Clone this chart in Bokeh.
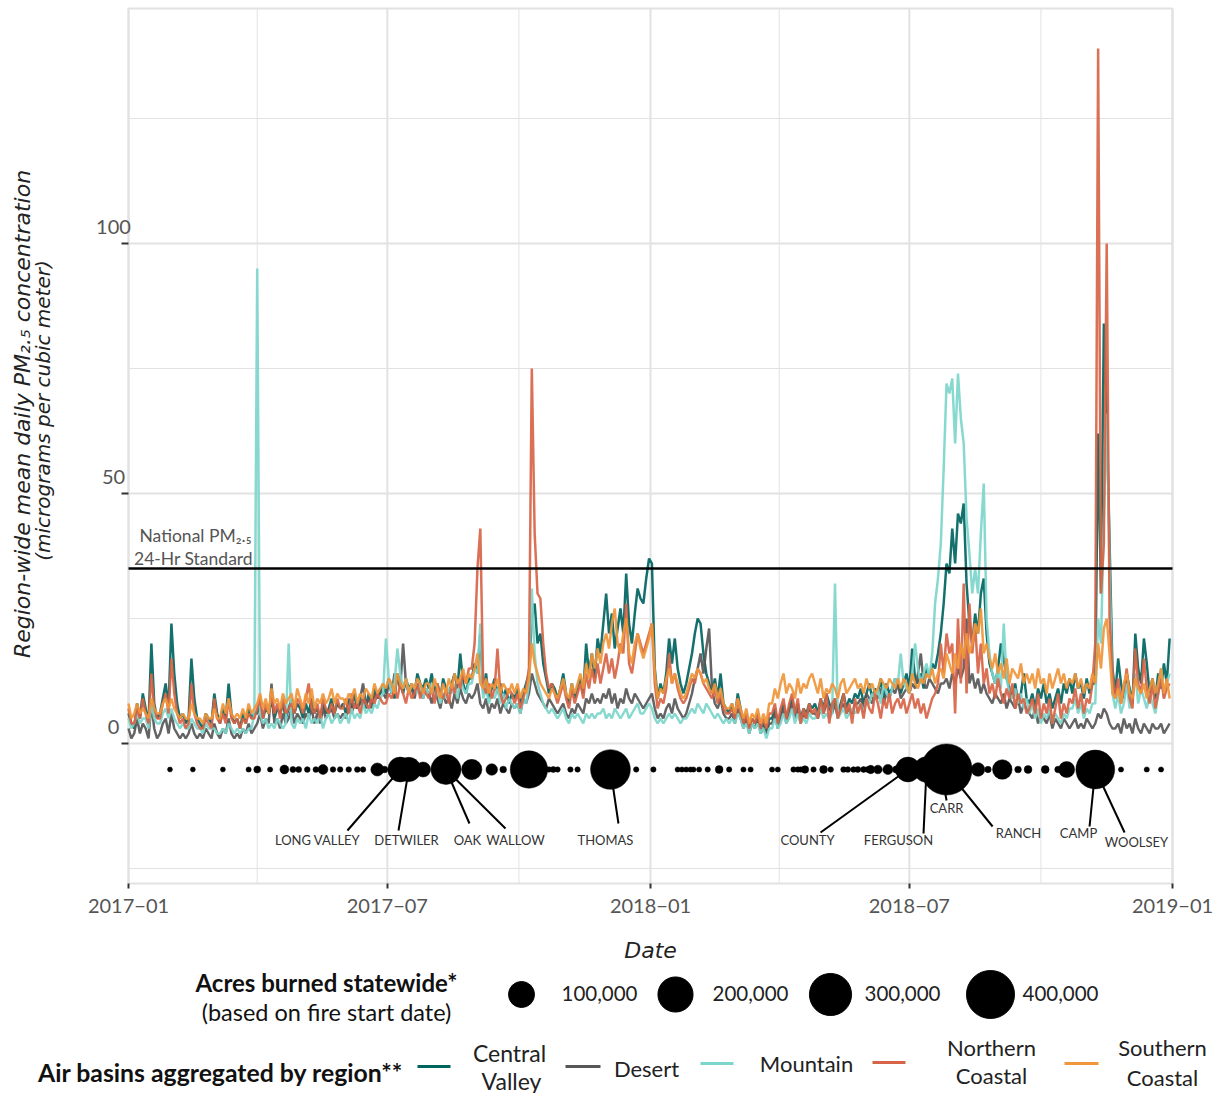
from math import pi
import numpy as np
import pandas as pd
from bokeh.plotting import figure
from bokeh.models import Range1d, FixedTicker, DatetimeTickFormatter, Label, ColumnDataSource
from bokeh.core.properties import value
from bokeh.embed import file_html
from bokeh.resources import INLINE

# ---------------- data ----------------
dates = pd.date_range("2017-01-01", "2018-12-30", freq="2D")

regions = ["Central Valley", "Desert", "Mountain", "Northern Coastal", "Southern Coastal"]
region_colors = ["#00645f", "#575757", "#7dd6cb", "#d76446", "#f0963c"]

central_valley = [
    6, 4, 3, 8, 5, 10, 7, 4, 20, 8, 5, 6, 9, 12, 7,
    24, 14, 8, 5, 6, 4, 5, 17, 9, 5, 4, 3, 6, 5, 4,
    10, 6, 4, 7, 5, 12, 6, 4, 5, 3, 6, 4, 7, 5, 6,
    6, 8, 5, 7, 6, 9, 5, 7, 6, 8, 5, 7, 9, 6, 8,
    7, 5, 8, 6, 9, 6, 7, 5, 8, 6, 7, 9, 6, 8, 7,
    8, 6, 9, 7, 10, 7, 8, 9, 7, 10, 8, 11, 9, 10, 12,
    10, 13, 11, 9, 14, 12, 10, 13, 11, 12, 10, 14, 12, 11, 13,
    11, 14, 10, 12, 9, 13, 11, 10, 12, 14, 11, 18, 12, 10, 13,
    13, 16, 14, 22, 10, 14, 9, 11, 13, 10, 12, 9, 11, 8, 10,
    9, 11, 8, 10, 12, 14, 25, 28, 20, 22, 16, 13, 10, 12, 11,
    9, 11, 14, 10, 8, 12, 9, 11, 13, 10, 20, 14, 18, 13, 21,
    18, 24, 30, 22, 26, 19, 23, 27, 22, 34, 24, 20, 26, 31, 29,
    28, 33, 37, 36, 15, 9, 12, 10, 14, 21, 16, 21, 15, 12, 10,
    12, 15, 18, 22, 25, 24, 18, 14, 12, 10, 13, 9, 14, 8, 7,
    6, 8, 5, 10, 7, 4, 6, 3, 5, 4, 6, 3, 4, 2, 5,
    5, 7, 4, 6, 8, 5, 7, 9, 6, 8, 5, 7, 6, 8, 7,
    8, 6, 9, 7, 10, 8, 7, 9, 6, 8, 10, 7, 9, 8, 10,
    9, 11, 8, 10, 12, 9, 11, 10, 13, 9, 12, 10, 11, 13, 12,
    10, 12, 14, 11, 19, 13, 12, 14, 11, 15, 13, 16, 15, 18, 22,
    28, 36, 34, 43, 36, 46, 44, 48, 32, 24, 20, 26, 22, 30, 33,
    22, 16, 14, 12, 15, 20, 17, 13, 11, 9, 12, 8, 10, 14, 9,
    8, 10, 7, 11, 9, 12, 8, 10, 7, 9, 11, 8, 12, 10, 13,
    10, 14, 11, 12, 9, 13, 10, 12, 12, 62, 30, 84, 66, 40, 15,
    10, 17, 12, 9, 14, 11, 8, 22, 15, 12, 21, 16, 10, 13, 9,
    14, 11, 16, 12, 21,
]
desert = [
    3, 1, 2, 5, 2, 4, 3, 1, 8, 3, 1, 2, 4, 5, 2,
    6, 3, 2, 1, 2, 1, 2, 4, 2, 1, 2, 1, 3, 2, 1,
    4, 2, 1, 3, 2, 5, 2, 1, 2, 1, 3, 2, 4, 2, 3,
    4, 6, 3, 5, 4, 12, 4, 5, 3, 6, 4, 5, 7, 4, 6,
    5, 4, 6, 5, 7, 4, 6, 4, 7, 5, 6, 7, 5, 6, 5,
    6, 5, 7, 6, 8, 7, 9, 12, 8, 9, 7, 10, 9, 11, 10,
    9, 12, 10, 14, 13, 11, 20, 12, 10, 11, 9, 12, 10, 9, 11,
    10, 8, 11, 9, 7, 10, 8, 9, 7, 10, 8, 11, 9, 8, 10,
    9, 10, 12, 8, 7, 9, 6, 8, 7, 9, 6, 8, 7, 6, 8,
    7, 8, 6, 9, 8, 10, 14, 12, 10, 9, 8, 7, 9, 8, 7,
    6, 7, 8, 6, 5, 7, 6, 8, 7, 6, 9, 8, 10, 8, 9,
    8, 10, 9, 11, 8, 10, 7, 9, 8, 11, 9, 8, 10, 9, 8,
    7, 8, 9, 10, 7, 5, 6, 5, 7, 8, 6, 9, 7, 6, 5,
    6, 8, 10, 13, 15, 18, 14, 19, 23, 11, 8, 7, 9, 6, 5,
    5, 6, 4, 7, 5, 3, 5, 2, 4, 3, 5, 2, 3, 2, 4,
    4, 6, 3, 5, 7, 4, 6, 8, 5, 7, 4, 6, 5, 7, 6,
    6, 5, 7, 6, 8, 7, 6, 8, 5, 7, 8, 6, 7, 6, 8,
    8, 9, 7, 10, 9, 8, 10, 9, 11, 8, 10, 9, 11, 10, 12,
    9, 10, 11, 10, 12, 11, 14, 18, 12, 11, 13, 12, 11, 10, 12,
    12, 13, 11, 14, 12, 15, 13, 15, 25, 12, 14, 11, 13, 10, 12,
    10, 9, 8, 10, 9, 8, 10, 7, 9, 8, 7, 9, 6, 8, 7,
    6, 5, 7, 4, 6, 5, 4, 6, 3, 5, 4, 3, 5, 4, 3,
    4, 5, 3, 4, 3, 5, 4, 3, 4, 6, 5, 7, 6, 4, 3,
    3, 4, 2, 5, 3, 4, 2, 5, 3, 2, 4, 3, 2, 4, 3,
    3, 4, 2, 3, 4,
]
mountain = [
    5, 3, 4, 6, 4, 5, 5, 3, 8, 5, 4, 4, 6, 7, 5,
    7, 5, 4, 3, 4, 3, 3, 5, 4, 3, 3, 2, 4, 3, 3,
    3, 2, 2, 3, 2, 4, 3, 2, 3, 2, 3, 2, 3, 3, 6,
    95, 6, 4, 5, 3, 4, 3, 5, 4, 3, 4, 20, 4, 3, 5,
    4, 5, 3, 6, 4, 5, 4, 6, 3, 5, 6, 4, 5, 6, 4,
    5, 6, 4, 7, 5, 6, 5, 8, 6, 7, 6, 8, 7, 9, 10,
    21, 13, 10, 12, 19, 14, 11, 13, 10, 12, 11, 10, 12, 9, 11,
    10, 12, 9, 11, 8, 10, 9, 11, 10, 12, 9, 13, 11, 10, 12,
    12, 15, 14, 24, 9, 11, 8, 10, 9, 11, 8, 10, 7, 9, 8,
    7, 8, 6, 9, 8, 12, 31, 18, 12, 10, 8, 7, 6, 7, 6,
    5, 6, 7, 5, 4, 6, 5, 6, 5, 4, 6, 5, 6, 5, 6,
    6, 7, 5, 6, 5, 7, 6, 5, 6, 7, 5, 6, 7, 8, 6,
    6, 7, 8, 7, 5, 4, 5, 4, 5, 6, 5, 6, 5, 4, 5,
    5, 6, 7, 6, 8, 7, 6, 8, 7, 6, 5, 6, 5, 4, 5,
    4, 5, 4, 6, 5, 3, 4, 2, 4, 3, 4, 2, 3, 1, 3,
    3, 5, 3, 4, 6, 4, 5, 7, 4, 6, 4, 5, 4, 6, 5,
    5, 6, 7, 5, 6, 5, 6, 32, 5, 6, 7, 5, 6, 7, 6,
    7, 8, 6, 9, 8, 10, 9, 11, 8, 12, 10, 9, 11, 13, 12,
    18, 12, 11, 10, 14, 20, 15, 12, 14, 16, 13, 18, 28, 33, 40,
    55, 72, 70, 73, 60, 74, 65, 60, 45, 38, 30, 35, 30, 42, 52,
    25, 18, 14, 12, 15, 11, 24, 13, 10, 9, 11, 8, 10, 7, 9,
    6, 8, 5, 7, 4, 6, 5, 7, 4, 6, 5, 4, 6, 5, 7,
    7, 9, 6, 8, 5, 7, 6, 8, 8, 25, 20, 45, 66, 35, 10,
    7, 10, 6, 8, 12, 7, 9, 14, 8, 11, 9, 7, 10, 8, 6,
    10, 15, 9, 12, 14,
]
northern_coastal = [
    7, 4, 4, 7, 5, 9, 6, 4, 14, 7, 5, 5, 8, 10, 6,
    17, 10, 6, 4, 5, 3, 4, 12, 6, 4, 3, 3, 5, 4, 3,
    9, 5, 4, 6, 4, 9, 5, 4, 5, 3, 5, 4, 6, 5, 5,
    7, 9, 5, 8, 6, 10, 6, 8, 5, 9, 6, 7, 8, 6, 9,
    8, 6, 9, 12, 7, 6, 8, 5, 9, 7, 6, 8, 6, 9, 7,
    7, 9, 6, 10, 7, 8, 6, 9, 8, 7, 9, 8, 10, 9, 8,
    8, 10, 9, 11, 9, 12, 10, 8, 11, 9, 10, 12, 9, 11, 10,
    9, 11, 8, 12, 10, 9, 11, 8, 12, 10, 13, 11, 14, 12, 15,
    15, 20, 35, 43, 12, 10, 12, 9, 11, 19, 10, 8, 9, 11, 10,
    8, 10, 7, 9, 11, 15, 75, 42, 30, 29, 20, 14, 11, 12, 10,
    8, 10, 12, 9, 7, 11, 8, 10, 12, 9, 14, 11, 15, 12, 16,
    12, 15, 18, 14, 17, 13, 16, 20, 18, 28, 16, 14, 18, 22, 20,
    18, 20, 22, 24, 12, 7, 9, 8, 11, 18, 12, 14, 11, 9, 8,
    9, 11, 13, 12, 15, 14, 12, 11, 10, 9, 11, 8, 10, 7, 6,
    6, 7, 5, 9, 6, 4, 6, 3, 5, 4, 6, 3, 5, 3, 6,
    6, 8, 4, 7, 9, 5, 8, 10, 6, 9, 4, 7, 5, 8, 6,
    7, 5, 9, 6, 10, 4, 8, 9, 5, 7, 10, 6, 8, 4, 9,
    6, 8, 5, 9, 7, 6, 10, 8, 5, 9, 7, 10, 6, 8, 9,
    7, 9, 6, 8, 10, 7, 9, 6, 8, 5, 7, 9, 10, 12, 20,
    14, 22, 18, 20, 6, 25, 12, 32, 10, 28, 18, 24, 14, 20, 12,
    15, 10, 12, 9, 13, 10, 8, 11, 9, 12, 7, 10, 8, 9, 6,
    7, 9, 6, 10, 5, 8, 6, 9, 4, 7, 10, 5, 8, 6, 9,
    8, 11, 7, 10, 6, 9, 8, 12, 20, 139, 30, 40, 100, 25, 14,
    9, 13, 8, 11, 15, 9, 7, 19, 12, 10, 17, 11, 8, 12, 7,
    10, 13, 9, 11, 12,
]
southern_coastal = [
    8, 5, 6, 8, 6, 7, 6, 5, 9, 7, 6, 6, 8, 9, 7,
    9, 7, 6, 5, 6, 5, 5, 8, 6, 5, 5, 4, 6, 5, 5,
    7, 5, 5, 8, 6, 9, 6, 5, 6, 5, 7, 5, 8, 6, 7,
    8, 10, 7, 9, 6, 11, 8, 9, 7, 10, 8, 9, 10, 7, 11,
    9, 7, 10, 8, 11, 7, 9, 8, 10, 8, 9, 11, 8, 10, 9,
    9, 8, 10, 9, 11, 8, 10, 9, 11, 10, 9, 12, 10, 11, 12,
    11, 13, 12, 10, 14, 12, 11, 13, 10, 12, 11, 13, 12, 10, 12,
    12, 10, 13, 11, 9, 12, 10, 13, 11, 14, 12, 13, 15, 12, 14,
    13, 15, 18, 12, 11, 13, 10, 12, 11, 13, 10, 12, 11, 10, 12,
    10, 12, 9, 11, 10, 13, 20, 16, 14, 12, 11, 10, 9, 11, 10,
    9, 11, 13, 10, 9, 12, 10, 12, 14, 11, 16, 13, 18, 15, 19,
    16, 20, 22, 19, 24, 27, 20, 18, 22, 25, 18, 16, 20, 22, 19,
    17, 19, 21, 24, 14, 9, 11, 10, 13, 15, 12, 14, 12, 10, 9,
    10, 12, 14, 13, 15, 14, 12, 13, 11, 10, 12, 9, 11, 8, 7,
    7, 8, 6, 9, 7, 5, 7, 4, 6, 5, 7, 4, 6, 4, 8,
    8, 11, 9, 12, 14, 10, 12, 11, 9, 13, 10, 12, 11, 13, 14,
    12, 10, 13, 9, 11, 10, 12, 11, 9, 12, 13, 10, 11, 12, 13,
    11, 12, 10, 13, 11, 12, 10, 11, 13, 12, 11, 13, 12, 11, 13,
    11, 13, 12, 10, 14, 12, 11, 13, 12, 14, 13, 15, 12, 14, 15,
    13, 18, 16, 14, 18, 15, 20, 17, 22, 18, 20, 24, 22, 27, 18,
    20, 17, 15, 18, 14, 16, 13, 17, 12, 15, 14, 13, 16, 12, 14,
    12, 14, 11, 15, 12, 13, 10, 14, 11, 13, 15, 12, 14, 11, 13,
    12, 14, 11, 13, 10, 12, 11, 14, 12, 20, 15, 23, 25, 18, 10,
    9, 11, 8, 12, 14, 10, 9, 13, 11, 10, 12, 9, 11, 13, 10,
    12, 15, 10, 13, 9,
]
pm_standard = 35

fire_dates = [
    "2017-01-30", "2017-02-15", "2017-03-08", "2017-03-26", "2017-04-01", "2017-04-10",
    "2017-04-20", "2017-04-26", "2017-04-30", "2017-05-06", "2017-05-12", "2017-05-17",
    "2017-05-24", "2017-05-29", "2017-06-04", "2017-06-10", "2017-06-14", "2017-06-24",
    "2017-06-29", "2017-07-04", "2017-07-10", "2017-07-16", "2017-07-26", "2017-08-11",
    "2017-08-29", "2017-09-12", "2017-09-20", "2017-10-08", "2017-10-22", "2017-10-25",
    "2017-10-28", "2017-11-06", "2017-11-11", "2017-12-04", "2017-12-22",
    "2018-01-03", "2018-01-20", "2018-01-23", "2018-01-26", "2018-01-29", "2018-01-31",
    "2018-02-04", "2018-02-10", "2018-02-18", "2018-02-25", "2018-03-07", "2018-03-12",
    "2018-03-27", "2018-03-31", "2018-04-11", "2018-04-14", "2018-04-16", "2018-04-19",
    "2018-04-25", "2018-05-02", "2018-05-07", "2018-05-16", "2018-05-19", "2018-05-23",
    "2018-05-26", "2018-05-30", "2018-06-02", "2018-06-04", "2018-06-09", "2018-06-16",
    "2018-06-22", "2018-06-30", "2018-07-06", "2018-07-13", "2018-07-23", "2018-07-27",
    "2018-08-18", "2018-08-25", "2018-09-04", "2018-09-15", "2018-09-22", "2018-10-04",
    "2018-10-13", "2018-10-19", "2018-11-08", "2018-11-26", "2018-12-14", "2018-12-24",
]
fire_acres = [
    200, 200, 200, 300, 1800, 300,
    4900, 800, 800, 600, 600, 7000,
    500, 500, 500, 600, 500, 17000,
    1500, 2500, 90000, 85000, 25000, 140000,
    55000, 12000, 1500, 230000, 400, 800,
    400, 400, 400, 265000, 400,
    400, 300, 300, 300, 300, 300,
    300, 400, 3000, 400, 300, 300,
    300, 300, 400, 400, 400, 2500,
    400, 3000, 500, 600, 600, 600,
    700, 700, 800, 4000, 4500, 8000,
    2500, 90000, 9000, 97000, 230000, 459000,
    19000, 1200, 50000, 1500, 3000, 3000,
    1500, 30000, 250000, 300, 300, 300,
]

named_fires = ["LONG VALLEY", "DETWILER", "OAK", "WALLOW", "THOMAS", "COUNTY",
               "FERGUSON", "CARR", "RANCH", "CAMP", "WOOLSEY"]
named_fire_dates = ["2017-07-10", "2017-07-16", "2017-08-11", "2017-08-11", "2017-12-04",
                    "2018-06-30", "2018-07-13", "2018-07-23", "2018-07-27", "2018-11-08",
                    "2018-11-08"]

size_legend_acres = [100000, 200000, 300000, 400000]
size_legend_labels = ["100,000", "200,000", "300,000", "400,000"]

x_tick_dates = ["2017-01-01", "2017-07-01", "2018-01-01", "2018-07-01", "2019-01-01"]
x_minor_dates = ["2017-04-01", "2017-10-01", "2018-04-01", "2018-10-01"]
y_ticks = [0, 50, 100]
y_minor_ticks = [-25, 25, 75, 125]

# ---------------- helpers / layout ----------------
START = pd.Timestamp("2017-01-01")
PANEL_DAYS = (0, 730)
PANEL_Y = (-28, 147)
W, H = 1217, 1093
PANEL_LEFT, PANEL_RIGHT, PANEL_TOP = 128, 1172, 8
PX_PER_DAY = (PANEL_RIGHT - PANEL_LEFT) / (PANEL_DAYS[1] - PANEL_DAYS[0])
PX_PER_UNIT = 5.0


def ms(ts):
    return pd.Timestamp(ts).value / 1e6


def day_ms(d):
    return ms(START) + d * 86400000.0


def X(px):  # canvas pixel column -> data x
    return day_ms((px - PANEL_LEFT) / PX_PER_DAY)


def Y(py):  # canvas pixel row -> data y
    return PANEL_Y[1] - (py - PANEL_TOP) / PX_PER_UNIT


def bubble_size(a):
    return 4 + 22 * np.sqrt(np.asarray(a, dtype=float) / 1e5)


BUBBLE_Y = -5.2
# repel-label layout: (label day, label y, segment end day, segment end y)
label_layout = [
    (132.2, -19.2, 153.1, -17.4),
    (194.4, -19.2, 188.8, -17.4),
    (237.0, -19.2, 238.4, -16.0),
    (270.6, -19.2, 263.6, -17.0),
    (333.5, -19.2, 342.6, -16.0),
    (474.8, -19.2, 483.9, -17.8),
    (538.4, -19.2, 555.9, -18.0),
    (572.0, -12.8, 572.0, -11.4),
    (622.3, -17.8, 604.2, -16.6),
    (664.3, -17.8, 672.0, -16.6),
    (704.8, -19.6, 696.5, -17.8),
]

SANS = "Lato"
TITLE_FONT = "DejaVu Sans"
GRID = "#e2e2e2"

# ---------------- figure (frame = whole canvas) ----------------
p = figure(width=W, height=H, x_axis_type="datetime",
           x_range=Range1d(X(0), X(W)), y_range=Range1d(Y(H), Y(0)),
           output_backend="svg", toolbar_location=None,
           min_border_left=0, min_border_right=0, min_border_top=0, min_border_bottom=0)
p.outline_line_color = None
p.grid.visible = False

# panel grid lines and border
vx = [ms(d) for d in x_tick_dates]
vxm = [ms(d) for d in x_minor_dates]
p.segment(x0=vxm, y0=[PANEL_Y[0]] * len(vxm), x1=vxm, y1=[PANEL_Y[1]] * len(vxm),
          line_color=GRID, line_width=1)
p.segment(x0=[day_ms(PANEL_DAYS[0])] * len(y_minor_ticks), y0=y_minor_ticks,
          x1=[day_ms(PANEL_DAYS[1])] * len(y_minor_ticks), y1=y_minor_ticks,
          line_color=GRID, line_width=1)
p.segment(x0=vx, y0=[PANEL_Y[0]] * len(vx), x1=vx, y1=[PANEL_Y[1]] * len(vx),
          line_color=GRID, line_width=2)
p.segment(x0=[day_ms(PANEL_DAYS[0])] * len(y_ticks), y0=y_ticks,
          x1=[day_ms(PANEL_DAYS[1])] * len(y_ticks), y1=y_ticks,
          line_color=GRID, line_width=2)
p.quad(left=day_ms(PANEL_DAYS[0]), right=day_ms(PANEL_DAYS[1]), bottom=PANEL_Y[0], top=PANEL_Y[1],
       fill_color=None, line_color=GRID, line_width=2)

# axes, fixed to the panel edges
p.xaxis.fixed_location = PANEL_Y[0]
p.xaxis.bounds = (day_ms(PANEL_DAYS[0] - 0.5), day_ms(PANEL_DAYS[1] + 0.5))
p.xaxis.ticker = FixedTicker(ticks=vx)
p.xaxis.formatter = DatetimeTickFormatter(days="%Y\u2212%m", months="%Y\u2212%m", years="%Y\u2212%m")
p.xaxis.axis_line_color = None
p.xaxis.major_tick_in = 0
p.xaxis.major_tick_out = 5
p.xaxis.major_tick_line_width = 2
p.xaxis.major_tick_line_color = "#333333"
p.xaxis.minor_tick_line_color = None
p.xaxis.major_label_text_font = SANS
p.xaxis.major_label_text_font_size = "20px"
p.xaxis.major_label_text_color = "#555555"
p.xaxis.major_label_standoff = 10
p.xaxis.axis_label = "Date"
p.xaxis.axis_label_text_font = TITLE_FONT
p.xaxis.axis_label_text_font_style = "italic"
p.xaxis.axis_label_text_font_size = "22px"
p.xaxis.axis_label_text_color = "#222222"
p.xaxis.axis_label_standoff = 22

p.yaxis.fixed_location = day_ms(PANEL_DAYS[0])
p.yaxis.ticker = FixedTicker(ticks=y_ticks)
p.yaxis.axis_line_color = None
p.yaxis.major_tick_in = 0
p.yaxis.major_tick_out = 7
p.yaxis.major_tick_line_width = 2
p.yaxis.major_tick_line_color = "#333333"
p.yaxis.minor_tick_line_color = None
p.yaxis.major_label_text_color = None

# y tick labels sit slightly above their ticks, as in the reference
for v in y_ticks:
    p.add_layout(Label(x=day_ms(PANEL_DAYS[0]), y=v, x_offset=-15, y_offset=17, text=str(v),
                       text_align="center", text_baseline="middle", text_font=SANS,
                       text_font_size="20px", text_color="#555555"))

# y-axis title (two lines, rotated)
p.add_layout(Label(x=day_ms(PANEL_DAYS[0]), y=66.6, x_offset=-106, angle=pi / 2,
                   text="Region-wide mean daily  PM\u2082.\u2085 concentration",
                   text_align="center", text_baseline="middle", text_font=TITLE_FONT,
                   text_font_style="italic", text_font_size="22px", text_color="#222222"))
p.add_layout(Label(x=day_ms(PANEL_DAYS[0]), y=66.6, x_offset=-86, angle=pi / 2,
                   text="(micrograms per cubic meter)",
                   text_align="center", text_baseline="middle", text_font=TITLE_FONT,
                   text_font_style="italic", text_font_size="20px", text_color="#222222"))

# PM2.5 lines
series = [central_valley, desert, mountain, northern_coastal, southern_coastal]
for name, vals, col in zip(regions, series, region_colors):
    assert len(vals) == len(dates), (name, len(vals))
    p.line(dates, vals, line_color=col, line_width=2.5, line_alpha=0.92)

# national standard
p.segment(x0=[day_ms(PANEL_DAYS[0])], y0=[pm_standard], x1=[day_ms(PANEL_DAYS[1])], y1=[pm_standard],
          line_color="black", line_width=2.5)
p.add_layout(Label(x=day_ms(PANEL_DAYS[0]), y=pm_standard, x_offset=67, y_offset=33,
                   text="National PM\u2082.\u2085", text_align="center", text_baseline="middle",
                   text_font=SANS, text_font_size="17.5px", text_color="#555555"))
p.add_layout(Label(x=day_ms(PANEL_DAYS[0]), y=pm_standard, x_offset=65, y_offset=10,
                   text="24-Hr Standard", text_align="center", text_baseline="middle",
                   text_font=SANS, text_font_size="17.5px", text_color="#555555"))

# fires: leader segments, bubbles, labels
seg_src = ColumnDataSource(dict(
    x0=[ms(d) for d in named_fire_dates],
    y0=[BUBBLE_Y] * len(named_fires),
    x1=[day_ms(l[2]) for l in label_layout],
    y1=[l[3] for l in label_layout],
))
p.segment("x0", "y0", "x1", "y1", source=seg_src, line_color="black", line_width=2)

fire_src = ColumnDataSource(dict(
    x=[ms(d) for d in fire_dates],
    y=[BUBBLE_Y] * len(fire_dates),
    size=bubble_size(fire_acres),
))
p.scatter("x", "y", size="size", source=fire_src, fill_color="black", line_color="black",
          line_width=0.5)

lab_src = ColumnDataSource(dict(
    x=[day_ms(l[0]) for l in label_layout],
    y=[l[1] for l in label_layout],
    text=named_fires,
))
p.text("x", "y", text="text", source=lab_src, text_font=value(SANS), text_font_size="13px",
       text_color="#333333", text_align="center", text_baseline="middle")

# ---------------- legends (below the panel) ----------------
p.text([X(326)], [Y(982)], text=["Acres burned statewide*"], text_font=value(SANS),
       text_font_style="bold", text_font_size="24px", text_color="#111111",
       text_align="center", text_baseline="middle")
p.text([X(326)], [Y(1011)], text=["(based on fire start date)"], text_font=value(SANS),
       text_font_size="23.5px", text_color="#111111", text_align="center", text_baseline="middle")
p.scatter([X(v) for v in (521, 675, 830, 990)], [Y(994)] * 4, size=bubble_size(size_legend_acres),
          fill_color="black", line_color="black")
p.text([X(v) for v in (561, 712, 864, 1022)], [Y(993)] * 4, text=size_legend_labels,
       text_font=value(SANS), text_font_size="20.5px", text_color="#222222",
       text_align="left", text_baseline="middle")

p.text([X(403)], [Y(1072)], text=["Air basins aggregated by region**"], text_font=value(SANS),
       text_font_style="bold", text_font_size="24.8px", text_color="#111111",
       text_align="right", text_baseline="middle")
key_x0 = [417, 565, 700, 872, 1064]
key_x1 = [450, 600, 733, 905, 1098]
key_y = [1066, 1066, 1063, 1062, 1063]
p.segment(x0=[X(v) for v in key_x0], y0=[Y(v) for v in key_y],
          x1=[X(v) for v in key_x1], y1=[Y(v) for v in key_y],
          line_color=region_colors, line_width=3)
legend_text = ["Central", "Valley", "Desert", "Mountain", "Northern", "Coastal", "Southern", "Coastal"]
legend_tx = [509, 511, 646, 806, 991, 991, 1162, 1162]
legend_ty = [1052, 1080, 1068, 1063, 1047, 1075, 1047, 1077]
legend_fs = ["23px", "23px", "22px", "22px", "22px", "22px", "22px", "22px"]
p.text([X(v) for v in legend_tx], [Y(v) for v in legend_ty], text=legend_text,
       text_font=value(SANS), text_font_size=legend_fs, text_color="#222222",
       text_align="center", text_baseline="middle")

open("out.html", "w").write(file_html(p, INLINE))
